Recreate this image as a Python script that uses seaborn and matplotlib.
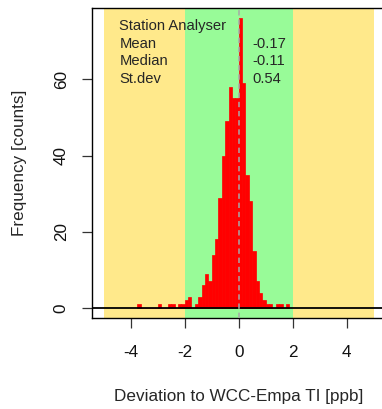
import numpy as np
import pandas as pd
import matplotlib
matplotlib.use("Agg")
import matplotlib.pyplot as plt
import seaborn as sns

# ---- data ----
bin_width = 0.125
first_bin = -3.75
counts = [1, 0, 0, 0, 0, 0, 1, 0, 0, 1, 1, 0, 1, 1, 2, 3, 0, 1, 3, 6,
          9, 7, 14, 18, 29, 40, 49, 58, 55, 55, 76, 59, 35, 28, 15, 7, 4, 2,
          1, 1, 0, 1, 1, 0, 1]
stat_names = ["Station Analyser", "Mean", "Median", "St.dev"]
stat_values = ["", "-0.17", "-0.11", "0.54"]
x_ticks = [-4, -2, 0, 2, 4]
y_ticks = [0, 20, 40, 60]
outer_band = (-5, 5)
inner_band = (-2, 2)

edges = first_bin + bin_width * np.arange(len(counts) + 1)
centers = edges[:-1] + bin_width / 2
df = pd.DataFrame({"dev": centers, "n": counts})

sns.set_style("white")
plt.rcParams["font.family"] = ["Liberation Sans", "DejaVu Sans"]

W, H, DPI = 382, 409, 100
fig = plt.figure(figsize=(W / DPI, H / DPI), dpi=DPI)
ax_left, ax_bottom, ax_w, ax_h = 92, 91, 293.3, 310
ax = fig.add_axes([ax_left / W, ax_bottom / H, ax_w / W, ax_h / H])

ax.axvspan(*outer_band, color="#FFE98B", lw=0, zorder=0)
ax.axvspan(*inner_band, color="#98FB98", lw=0, zorder=0)

sns.histplot(data=df, x="dev", weights="n", binwidth=bin_width,
             binrange=(float(edges[0]), float(edges[-1])), color="red",
             edgecolor="red", linewidth=0.5, alpha=1, ax=ax, zorder=2)

ax.axhline(0, color="black", lw=1.3, zorder=3)
ax.axvline(0, color="#A8A8A8", lw=1.1, ls=(0, (3.5, 2.5)), zorder=4)

ax.set_xlim(-5.43, 5.43)
ax.set_ylim(-2.6, 78.7)
ax.set_xticks(x_ticks)
ax.set_xticklabels([str(t) for t in x_ticks])
ax.set_yticks(y_ticks)
ax.set_yticklabels([str(t) for t in y_ticks])
ax.tick_params(axis="both", direction="out", length=7.2, width=0.9,
               color="#333333", labelsize=12.3, labelcolor="#111111",
               bottom=True, left=True, top=False, right=False)
ax.tick_params(axis="x", pad=12)
ax.tick_params(axis="y", pad=9.5, labelrotation=90)
for lab in ax.get_yticklabels():
    lab.set_va("center")

for s in ax.spines.values():
    s.set_visible(True)
    s.set_color("black")
    s.set_linewidth(1.0)

ax.set_xlabel("Deviation to WCC-Empa TI [ppb]", fontsize=12.3, va="center")
ax.xaxis.set_label_coords(0.5, (12 - ax_bottom) / ax_h)
ax.set_ylabel("Frequency [counts]", fontsize=12.3, va="center")
ax.yaxis.set_label_coords((19 - ax_left) / ax_w, 0.5)

ys = [73.96, 69.25, 64.8, 60.1]
for name, val, y in zip(stat_names, stat_values, ys):
    ax.text(-4.42, y, name, fontsize=10.6, va="center", ha="left", zorder=5)
    if val:
        ax.text(0.50, y, val, fontsize=10.6, va="center", ha="left", zorder=5)

fig.savefig("out.png", dpi=DPI)
